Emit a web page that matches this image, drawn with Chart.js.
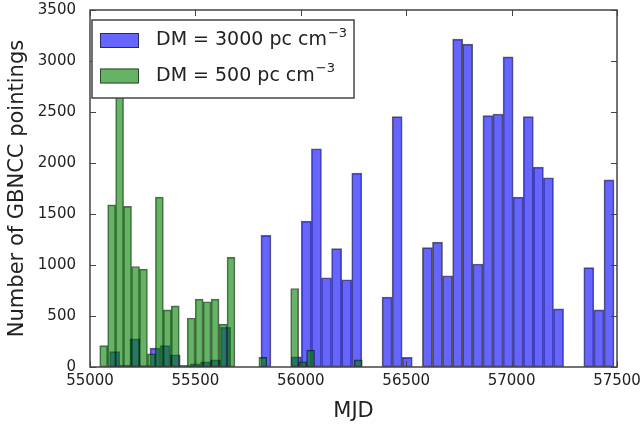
<!DOCTYPE html>
<html>
<head>
<meta charset="utf-8">
<script src="https://cdn.jsdelivr.net/npm/chart.js@4.4.1/dist/chart.umd.min.js"></script>
<style>
  html, body { margin: 0; padding: 0; background: #fff; }
</style>
</head>
<body>
<canvas id="histChart" width="642" height="425"></canvas>
<script>
// DM = 3000: bin centres (MJD) and number of pointings per bin
const blueBins = [
  55116.9, 55164.8, 55212.7, 55260.5, 55308.4, 55356.2, 55404.1, 55452.0, 55499.8, 55547.7,
  55595.5, 55643.4, 55691.3, 55739.1, 55787.0, 55834.8, 55882.7, 55930.6, 55978.4, 56026.3,
  56074.1, 56122.0, 56169.9, 56217.7, 56265.6, 56313.4, 56361.3, 56409.2, 56457.0, 56504.9,
  56552.7, 56600.6, 56648.5, 56696.3, 56744.2, 56792.0, 56839.9, 56887.8, 56935.6, 56983.5,
  57031.3, 57079.2, 57127.1, 57174.9, 57222.8, 57270.6, 57318.5, 57366.4, 57414.2, 57462.1
];
const blueCounts = [
  150, 20, 275, 15, 185, 210, 120, 15, 30, 50,
  70, 390, 0, 0, 0, 1290, 0, 0, 100, 1430,
  2140, 875, 1160, 855, 1900, 0, 0, 685, 2455, 95,
  0, 1170, 1225, 895, 3215, 3165, 1010, 2465, 2480, 3040,
  1665, 2455, 1960, 1855, 570, 0, 0, 975, 560, 1835
];

// DM = 500: bin centres (MJD) and number of pointings per bin
const greenBins = [
  55064.9, 55102.6, 55140.4, 55178.1, 55215.9, 55253.6, 55291.4, 55329.1, 55366.9, 55404.6,
  55442.4, 55480.1, 55517.9, 55555.6, 55593.4, 55631.1, 55668.9, 55706.6, 55744.4, 55782.1,
  55819.9, 55857.6, 55895.4, 55933.1, 55970.9, 56008.6, 56046.4, 56084.1, 56121.9, 56159.6,
  56197.4, 56235.1, 56272.9
];
const greenCounts = [
  210, 1590, 2800, 1575, 985, 960, 130, 1665, 560, 600,
  15, 480, 665, 640, 665, 420, 1075, 0, 0, 0,
  95, 0, 0, 0, 770, 50, 165, 0, 0, 0,
  0, 0, 70
];

const xTicks = [55000, 55500, 56000, 56500, 57000, 57500];
const yTicks = [0, 500, 1000, 1500, 2000, 2500, 3000, 3500];

Chart.defaults.font.family = '"DejaVu Sans", sans-serif';
Chart.defaults.color = '#222';

// frame round the plot with inward ticks on all four sides
const frameTicks = {
  id: 'frameTicks',
  afterDraw(chart) {
    const ctx = chart.ctx, a = chart.chartArea;
    const xs = chart.scales.x, ys = chart.scales.y;
    const len = 6;
    ctx.save();
    ctx.strokeStyle = '#444';
    ctx.lineWidth = 1;
    ctx.beginPath();
    xTicks.forEach(v => {
      const px = Math.round(xs.getPixelForValue(v)) + 0.5;
      ctx.moveTo(px, a.bottom); ctx.lineTo(px, a.bottom - len);
      ctx.moveTo(px, a.top); ctx.lineTo(px, a.top + len);
    });
    yTicks.forEach(v => {
      const py = Math.round(ys.getPixelForValue(v)) + 0.5;
      ctx.moveTo(a.left, py); ctx.lineTo(a.left + len, py);
      ctx.moveTo(a.right, py); ctx.lineTo(a.right - len, py);
    });
    ctx.stroke();
    ctx.lineWidth = 1.5;
    ctx.strokeRect(a.left, a.top, a.right - a.left, a.bottom - a.top);
    ctx.restore();
  }
};

// matplotlib style legend box inside the axes
const boxLegend = {
  id: 'boxLegend',
  afterDraw(chart) {
    const ctx = chart.ctx, a = chart.chartArea;
    const x0 = a.left + 2, y0 = a.top + 10, w = 262, h = 78;
    ctx.save();
    ctx.fillStyle = '#fff';
    ctx.fillRect(x0, y0, w, h);
    ctx.strokeStyle = '#444';
    ctx.lineWidth = 1.5;
    ctx.strokeRect(x0, y0, w, h);
    chart.data.datasets.forEach((ds, i) => {
      const cy = y0 + 20.5 + i * 35.5;
      ctx.fillStyle = ds.backgroundColor;
      ctx.fillRect(x0 + 8, cy - 7.5, 39, 15);
      ctx.strokeStyle = ds.borderColor;
      ctx.lineWidth = 1;
      ctx.strokeRect(x0 + 8.5, cy - 7, 38, 14);
      ctx.fillStyle = '#222';
      ctx.textBaseline = 'middle';
      ctx.font = '19px "DejaVu Sans"';
      ctx.fillText(ds.label, x0 + 64, cy);
      const tw = ctx.measureText(ds.label).width;
      ctx.font = '13px "DejaVu Sans"';
      ctx.fillText(ds.labelExp, x0 + 64 + tw + 1, cy - 7);
    });
    ctx.restore();
  }
};

const ctx = document.getElementById('histChart').getContext('2d');
new Chart(ctx, {
  type: 'bar',
  data: {
    datasets: [{
      label: 'DM = 3000 pc cm',
      labelExp: '\u22123',
      data: blueBins.map((b, i) => ({ x: b, y: blueCounts[i] })),
      backgroundColor: 'rgba(0, 0, 255, 0.6)',
      borderColor: 'rgba(0, 0, 0, 0.6)',
      borderWidth: 1,
      borderSkipped: false,
      xAxisID: 'x',
      order: 1
    }, {
      label: 'DM = 500 pc cm',
      labelExp: '\u22123',
      data: greenBins.map((b, i) => ({ x: b, y: greenCounts[i] })),
      backgroundColor: 'rgba(0, 128, 0, 0.6)',
      borderColor: 'rgba(0, 0, 0, 0.6)',
      borderWidth: 1,
      borderSkipped: false,
      xAxisID: 'x2',
      order: 0
    }]
  },
  options: {
    responsive: false,
    animation: false,
    layout: { padding: { top: 10, right: 25, left: 0, bottom: 0 } },
    datasets: { bar: { categoryPercentage: 1.0, barPercentage: 1.0, grouped: false } },
    plugins: {
      legend: { display: false },
      tooltip: { enabled: false }
    },
    scales: {
      x: {
        type: 'linear',
        min: 55000,
        max: 57500,
        offset: false,
        grid: { display: false, drawTicks: false },
        border: { display: false },
        afterBuildTicks: s => { s.ticks = xTicks.map(v => ({ value: v })); },
        afterFit: s => { s.height = 58; s.paddingLeft = 0; s.paddingRight = 0; },
        ticks: { font: { size: 15 }, padding: 5, callback: v => String(v) },
        title: { display: true, text: 'MJD', font: { size: 21 }, padding: { top: 0, bottom: 1 } }
      },
      x2: {
        type: 'linear',
        min: 55000,
        max: 57500,
        offset: false,
        display: false,
        ticks: { stepSize: 500 }
      },
      y: {
        min: 0,
        max: 3500,
        grid: { display: false, drawTicks: false },
        border: { display: false },
        afterBuildTicks: s => { s.ticks = yTicks.map(v => ({ value: v })); },
        afterFit: s => { s.width = 90; s.paddingTop = 0; s.paddingBottom = 0; },
        ticks: { font: { size: 15 }, padding: 14, callback: v => String(v) },
        title: { display: true, text: 'Number of GBNCC pointings', font: { size: 21 }, padding: { top: 5, bottom: 0 } }
      }
    }
  },
  plugins: [frameTicks, boxLegend]
});
</script>
</body>
</html>
